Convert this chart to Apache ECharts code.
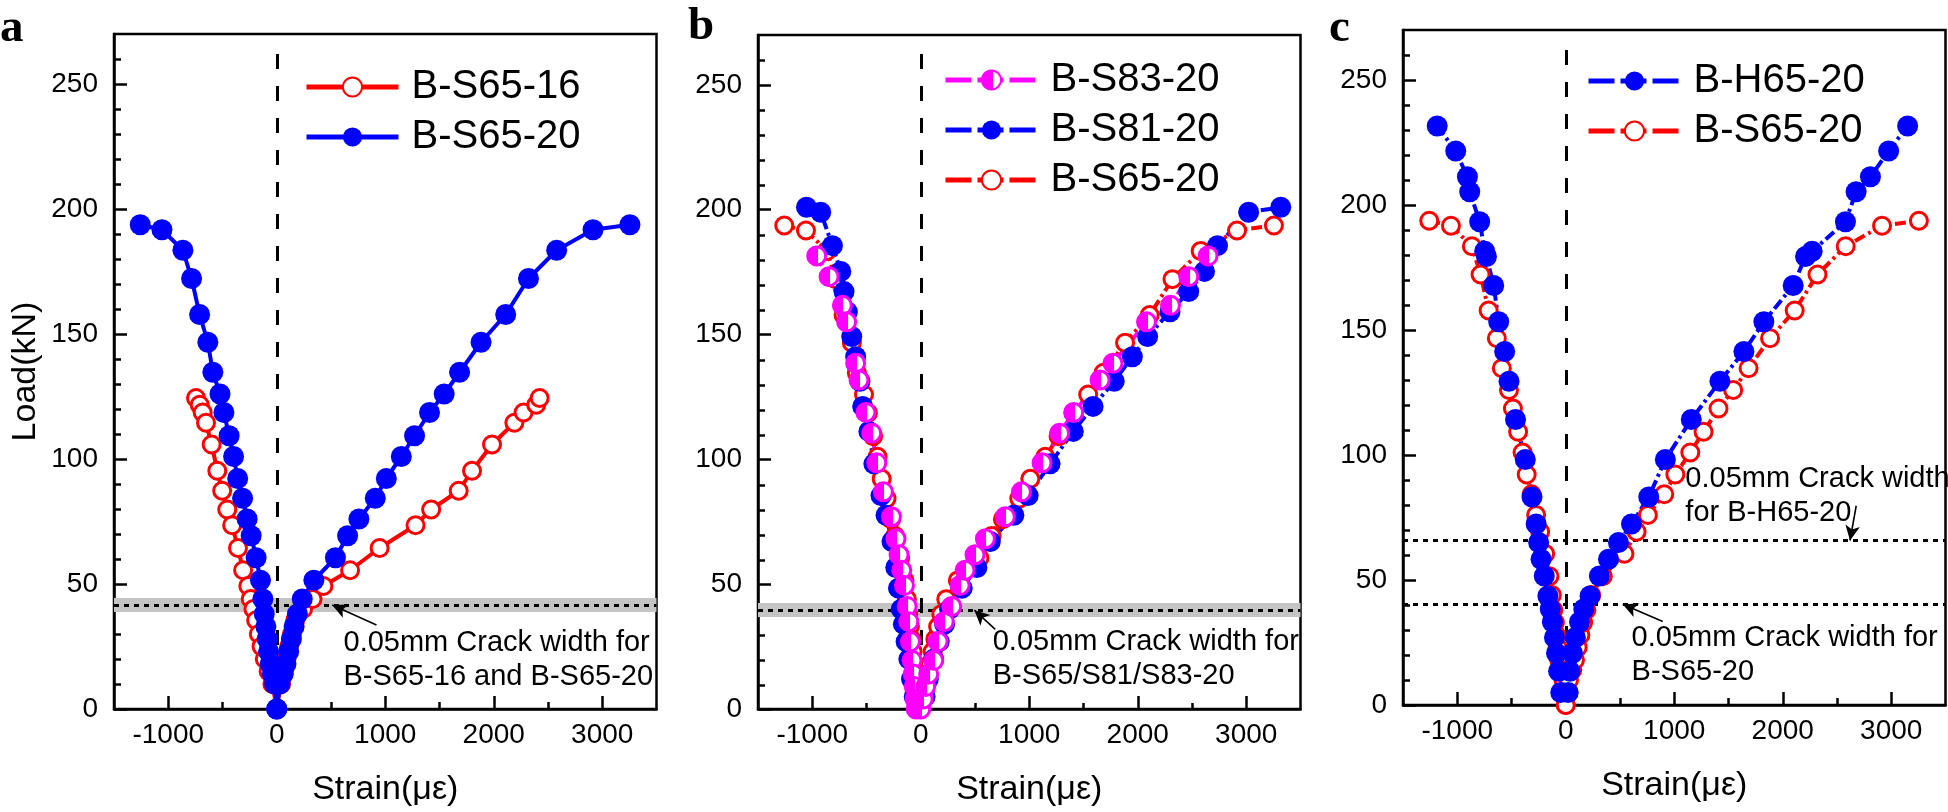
<!DOCTYPE html>
<html><head><meta charset="utf-8">
<script src="https://cdn.jsdelivr.net/npm/echarts@6/dist/echarts.min.js"></script>
<style>html,body{margin:0;padding:0;background:#fff}#c{width:1948px;height:812px}</style>
</head><body><div id="c"></div>
<script>
// ---------------- tick labels ----------------
const xTickLabels = [-1000, 0, 1000, 2000, 3000];
const xMinorTicks = [-500, 500, 1500, 2500];
const yTickLabels = [0, 50, 100, 150, 200, 250];
const yMinorTicks = [10, 20, 30, 40, 60, 70, 80, 90, 110, 120, 130, 140, 160, 170, 180, 190, 210, 220, 230, 240, 260];

// ---------------- data: load (kN), compression strain, tension strain ----------------
// B-S65-16
const s6516Load = [0, 10, 15, 20, 25, 30, 35.5, 40, 44, 49.2, 55.5, 64.4, 73.5, 79.8, 87.3, 95.3, 105.8, 114.5, 118.6, 121.7, 124.4];
const s6516Comp = [0, -40, -75, -110, -140, -165, -190, -215, -240, -262, -310, -357, -411, -456, -503, -548, -600, -652, -683, -710, -744];
const s6516Tens = [0, 40, 65, 90, 115, 140, 170, 243, 330, 430, 676, 948, 1279, 1423, 1677, 1800, 1984, 2190, 2275, 2392, 2423];
// B-S65-20
const s6520Load = [0, 10, 14, 18, 23, 28, 33, 38, 44, 51.5, 60.5, 69.3, 76, 84.3, 92.2, 101, 109.3, 118.6, 126, 134.7, 146.7, 157.8, 172.2, 183.5, 191.7, 193.7];
const s6520Comp = [0, -20, -40, -60, -75, -88, -100, -115, -128, -150, -190, -236, -273, -315, -360, -398, -439, -487, -523, -589, -635, -711, -785, -865, -1058, -1258];
const s6520Tens = [0, 30, 60, 85, 110, 135, 160, 190, 235, 342, 541, 653, 757, 908, 1010, 1148, 1270, 1408, 1543, 1685, 1883, 2110, 2320, 2580, 2915, 3255];
// B-S81-20
const s8120Load = [5, 12, 20, 27, 34, 40, 48.4, 56.7, 67.1, 77.6, 85.5, 98.2, 111.2, 121.2, 131.3, 141.1, 149.2, 159.1, 167.2, 175.3, 185.6, 199, 201];
const s8120Comp = [-60, -85, -110, -135, -160, -180, -205, -230, -265, -320, -366, -432, -478, -535, -560, -600, -636, -676, -707, -737, -814, -922, -1053];
const s8120Tens = [40, 70, 120, 170, 220, 266, 382, 517, 641, 858, 990, 1192, 1406, 1588, 1783, 1950, 2091, 2297, 2470, 2615, 2735, 3022, 3318];
// B-S83-20
const s8320Load = [0, 4, 9, 14, 19.5, 27, 35, 41.1, 49.5, 55.6, 61.8, 68.2, 77, 87, 98.6, 110.5, 118.8, 131.8, 138.5, 155.1, 161.7, 173.2, 181.5];
const s8320Comp = [-42, -52, -60, -70, -80, -95, -110, -125, -150, -175, -200, -228, -270, -344, -405, -452, -505, -569, -600, -683, -722, -845, -959];
const s8320Tens = [0, 23, 46, 73, 120, 160, 216, 286, 363, 409, 500, 596, 780, 928, 1118, 1280, 1410, 1653, 1772, 2081, 2302, 2470, 2648];
// B-H65-20
const h6520Load = [5, 13.5, 20.7, 27, 33.2, 38.4, 43.6, 51.6, 58.3, 65, 72.4, 83.2, 98.2, 114.2, 129.5, 141.4, 153.3, 167.8, 179.4, 181.5, 193.3, 205.3, 211.3, 221.6, 231.6];
const h6520Comp = [-46, -66, -85, -104, -123, -143, -165, -198, -228, -250, -273, -311, -373, -463, -523, -563, -618, -664, -731, -747, -793, -885, -906, -1014, -1185];
const h6520Tens = [23, 39, 62, 89, 127, 166, 224, 310, 394, 486, 606, 765, 918, 1157, 1421, 1642, 1826, 2096, 2210, 2271, 2578, 2676, 2808, 2976, 3151];

// crack-width reference loads
const crackA = 41.6, crackB = 39.6, crackC1 = 65.8, crackC2 = 40.3;
const zeroLineTop = 264;

function curve(L, C, T) {
  const out = [];
  for (let i = L.length - 1; i >= 0; i--) out.push([C[i], L[i]]);
  for (let i = 0; i < L.length; i++) out.push([T[i], L[i]]);
  return out;
}

const chart = echarts.init(document.getElementById('c'), null, {renderer: 'canvas'});
const FONT = 'Liberation Sans';
const RED = '#ff0000', BLUE = '#0000ff', MAG = '#ff00ff';
const GRIDS = [
  {left: 114, top: 34, width: 542.5, height: 675},
  {left: 758, top: 35, width: 542.5, height: 675},
  {left: 1403, top: 30, width: 542.5, height: 675}
];
const DASHDOT = [11, 4, 3, 4];

const openRed = {symbol: 'circle', symbolSize: 17, itemStyle: {color: '#fff', borderColor: RED, borderWidth: 3}};
const fillBlue = {symbol: 'circle', symbolSize: 21, itemStyle: {color: BLUE}};
const halfMag = {symbol: 'circle', symbolSize: 18, itemStyle: {
  color: new echarts.graphic.LinearGradient(0, 0, 1, 0, [
    {offset: 0, color: MAG}, {offset: 0.55, color: MAG}, {offset: 0.55, color: '#fff'}, {offset: 1, color: '#fff'}]),
  borderColor: MAG, borderWidth: 3}};

const tickLine = {color: '#000', width: 2.5};
const xAxes = [], yAxes = [];
// main axes (grid 0..2)
GRIDS.forEach((g, i) => {
  xAxes.push({
    gridIndex: i, type: 'value', min: -1500, max: 3500, interval: 500, position: 'bottom',
    axisLine: {show: true, onZero: false, lineStyle: {color: '#000', width: 2.5}},
    axisTick: {show: true, inside: true, length: 13, customValues: xTickLabels, lineStyle: tickLine},
    axisLabel: {show: true, customValues: xTickLabels, margin: 12, fontSize: 28, color: '#000', fontFamily: FONT,
      formatter: v => (v % 1000 === 0 && v >= -1000 && v <= 3000) ? String(v) : ''},
    splitLine: {show: false},
    name: 'Strain(με)', nameLocation: 'middle', nameGap: 64,
    nameTextStyle: {fontSize: 34, color: '#000', fontFamily: FONT}
  });
  yAxes.push({
    gridIndex: i, type: 'value', min: 0, max: 270, interval: 50, position: 'left',
    axisLine: {show: true, onZero: false, lineStyle: {color: '#000', width: 2.5}},
    axisTick: {show: true, inside: true, length: 13, customValues: yTickLabels, lineStyle: tickLine},
    axisLabel: {show: true, customValues: yTickLabels, margin: 16, fontSize: 28, color: '#000', fontFamily: FONT,
      formatter: v => v <= 250 ? String(v) : ''},
    splitLine: {show: false},
    name: i === 0 ? 'Load(kN)' : '', nameLocation: 'middle', nameGap: 71,
    nameTextStyle: {fontSize: 34, color: '#000', fontFamily: FONT}
  });
});
// overlay axes carrying only the minor ticks (grid 3..5, same rectangles)
GRIDS.forEach((g, i) => {
  xAxes.push({
    gridIndex: 3 + i, type: 'value', min: -1500, max: 3500, interval: 500, position: 'bottom',
    axisLine: {show: false, onZero: false},
    axisTick: {show: true, inside: true, length: 7, customValues: xMinorTicks, lineStyle: tickLine},
    axisLabel: {show: false}, splitLine: {show: false}
  });
  yAxes.push({
    gridIndex: 3 + i, type: 'value', min: 0, max: 270, interval: 50, position: 'left',
    axisLine: {show: false, onZero: false},
    axisTick: {show: true, inside: true, length: 7, customValues: yMinorTicks, lineStyle: tickLine},
    axisLabel: {show: false}, splitLine: {show: false}
  });
});

function dataSeries(name, panel, data, marker, color, dashed) {
  return {
    name: name, type: 'line', xAxisIndex: panel, yAxisIndex: panel,
    data: data, showSymbol: true, z: 3,
    symbol: marker.symbol, symbolSize: marker.symbolSize, itemStyle: marker.itemStyle,
    lineStyle: {color: color, width: 4, type: dashed ? DASHDOT : 'solid'},
    emphasis: {disabled: true}, silent: true, animation: false
  };
}

const dottedStyle = {color: '#000', width: 3, type: [5, 5]};
const dashStyle = {color: '#000', width: 3, type: [15, 17]};
const arrowStyle = {color: '#000', width: 1.6, type: 'solid'};
const refLine = v => ({yAxis: v, lineStyle: dottedStyle});
const band = v => ({yAxis: v, lineStyle: {color: '#c4c4c4', width: 14, type: 'solid'}});
const zeroLine = () => [{coord: [0, 0], lineStyle: dashStyle}, {coord: [0, zeroLineTop], lineStyle: dashStyle}];
const arrow = (from, to) => [
  {coord: from, symbol: 'none', lineStyle: arrowStyle},
  {coord: to, symbol: 'arrow', symbolSize: [11, 15], lineStyle: arrowStyle}];
const note = (at, text) => ({coord: at, symbol: 'circle', symbolSize: 1, itemStyle: {color: 'rgba(0,0,0,0)'},
  label: {show: true, position: [0, 0], align: 'left', verticalAlign: 'top', formatter: text,
    fontSize: 29, lineHeight: 34, color: '#000', fontFamily: FONT}});

function helper(panel, lines, notes) {
  return {
    type: 'line', xAxisIndex: panel, yAxisIndex: panel, data: [], silent: true, animation: false,
    markLine: {silent: true, symbol: 'none', z: 1, animation: false, label: {show: false},
      lineStyle: {color: '#000', type: 'solid'}, emphasis: {disabled: true}, data: lines},
    markPoint: {silent: true, z: 6, animation: false, data: notes}
  };
}

const series = [
  helper(0, [band(crackA), refLine(crackA), zeroLine(), arrow([919, 33.6], [511, crackA])],
    [note([620, 33.2], '0.05mm Crack width for\nB-S65-16 and B-S65-20')]),
  dataSeries('B-S65-16', 0, curve(s6516Load, s6516Comp, s6516Tens), openRed, RED, false),
  dataSeries('B-S65-20|a', 0, curve(s6520Load, s6520Comp, s6520Tens), fillBlue, BLUE, false),

  helper(1, [band(crackB), refLine(crackB), zeroLine(), arrow([687, 31.9], [494, crackB])],
    [note([668, 33.6], '0.05mm Crack width for\nB-S65/S81/S83-20')]),
  dataSeries('B-S65-20|b', 1, curve(s6520Load, s6520Comp, s6520Tens), openRed, RED, true),
  dataSeries('B-S81-20', 1, curve(s8120Load, s8120Comp, s8120Tens), fillBlue, BLUE, true),
  dataSeries('B-S83-20', 1, curve(s8320Load, s8320Comp, s8320Tens), halfMag, MAG, true),

  helper(2, [refLine(crackC1), refLine(crackC2), zeroLine(), arrow([2677, 79.7], [2620, crackC1]), arrow([894, 33.4], [525, crackC2])],
    [note([1107, 96.9], '0.05mm Crack width\nfor B-H65-20'), note([611, 33.6], '0.05mm Crack width for\nB-S65-20')]),
  dataSeries('B-S65-20|c', 2, curve(s6520Load, s6520Comp, s6520Tens), openRed, RED, true),
  dataSeries('B-H65-20', 2, curve(h6520Load, h6520Comp, h6520Tens), fillBlue, BLUE, true)
];

const legendBase = {
  orient: 'vertical', padding: 0, itemWidth: 92, itemHeight: 24, itemGap: 10, selectedMode: false,
  textStyle: {fontSize: 40, lineHeight: 40, color: '#000', fontFamily: FONT, padding: [0, 0, 0, 8]},
  formatter: n => n.split('|')[0]
};

const option = {
  animation: false,
  backgroundColor: '#fff',
  textStyle: {fontFamily: FONT},
  grid: GRIDS.map(g => Object.assign({show: true, borderColor: '#000', borderWidth: 2.5, backgroundColor: 'transparent', containLabel: false}, g))
    .concat(GRIDS.map(g => Object.assign({show: false, containLabel: false}, g))),
  xAxis: xAxes,
  yAxis: yAxes,
  legend: [
    Object.assign({}, legendBase, {left: 304, top: 67, data: ['B-S65-16', 'B-S65-20|a'],
      lineStyle: {width: 5, type: 'solid'}}),
    Object.assign({}, legendBase, {left: 943, top: 60, data: ['B-S83-20', 'B-S81-20', 'B-S65-20|b'],
      lineStyle: {width: 5, type: [26, 6]}}),
    Object.assign({}, legendBase, {left: 1586, top: 61, data: ['B-H65-20', 'B-S65-20|c'],
      lineStyle: {width: 5, type: [26, 6]}})
  ],
  graphic: [
    {type: 'text', left: 0, top: 5, style: {text: 'a', font: 'bold 47px "Liberation Serif"', fill: '#000'}},
    {type: 'text', left: 688, top: 3, style: {text: 'b', font: 'bold 47px "Liberation Serif"', fill: '#000'}},
    {type: 'text', left: 1329, top: 5, style: {text: 'c', font: 'bold 47px "Liberation Serif"', fill: '#000'}}
  ],
  series: series
};
chart.setOption(option);
</script>
</body></html>
